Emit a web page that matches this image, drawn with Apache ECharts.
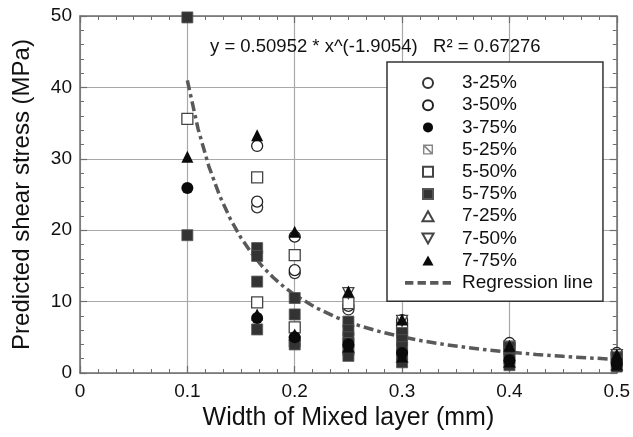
<!DOCTYPE html>
<html>
<head>
<meta charset="utf-8">
<script src="https://cdn.jsdelivr.net/npm/echarts@6/dist/echarts.min.js"></script>
<style>
  html, body { margin: 0; padding: 0; background: #fff; }
  #chart { width: 633px; height: 437px; }
</style>
</head>
<body>
<div id="chart"></div>
<script>
// Predicted shear stress vs. width of the mixed layer, [width (mm), stress (MPa)]
const s3_25 = [[0.165, 23.2], [0.2, 14.0], [0.25, 8.9], [0.3, 7.0], [0.4, 3.9], [0.5, 2.5]];
const s3_50 = [[0.165, 24.0], [0.165, 31.8], [0.2, 14.4], [0.2, 19.1], [0.25, 9.4], [0.3, 7.4], [0.4, 4.2], [0.5, 2.8]];
const s3_75 = [[0.1, 25.9], [0.165, 7.7], [0.2, 5.0], [0.25, 4.0], [0.3, 2.8], [0.4, 1.8], [0.5, 1.3]];
const s5_25 = [[0.25, 6.5], [0.3, 4.5], [0.4, 2.6], [0.5, 1.7]];
const s5_50 = [[0.1, 35.6], [0.165, 27.4], [0.165, 9.9], [0.2, 16.5], [0.2, 6.4], [0.25, 9.8], [0.3, 6.1], [0.4, 3.4], [0.5, 2.2]];
const s5_75 = [[0.1, 49.8], [0.1, 19.3], [0.165, 17.5], [0.165, 16.4], [0.165, 12.8], [0.165, 6.1],
               [0.2, 10.5], [0.2, 8.2], [0.2, 4.4], [0.2, 4.0],
               [0.25, 7.2], [0.25, 6.0], [0.25, 5.0], [0.25, 4.2], [0.25, 3.2], [0.25, 2.4],
               [0.3, 5.6], [0.3, 4.6], [0.3, 3.6], [0.3, 2.6], [0.3, 1.5],
               [0.4, 3.6], [0.4, 2.8], [0.4, 2.0], [0.4, 1.1],
               [0.5, 2.2], [0.5, 1.5], [0.5, 0.9]];
const s7_25 = [[0.25, 3.6], [0.3, 2.3], [0.4, 1.6], [0.5, 1.2]];
const s7_50 = [[0.25, 11.2], [0.3, 7.3], [0.4, 3.7], [0.5, 2.5]];
const s7_75 = [[0.1, 30.3], [0.165, 33.3], [0.165, 8.2], [0.2, 19.8], [0.2, 5.4], [0.25, 11.4], [0.25, 3.7],
               [0.3, 7.5], [0.3, 2.3], [0.4, 3.8], [0.4, 1.6], [0.5, 2.6], [0.5, 1.2]];

// Fitted power law y = A * x^B and its coefficient of determination
const fitA = 0.50952;
const fitB = -1.9054;
const fitR2 = 0.67276;
const fitX = [0.1, 0.11, 0.12, 0.13, 0.14, 0.15, 0.16, 0.17, 0.18, 0.19, 0.2, 0.22, 0.24, 0.26, 0.28, 0.3,
              0.32, 0.34, 0.36, 0.38, 0.4, 0.425, 0.45, 0.475, 0.5];
const fitLine = fitX.map(x => [x, fitA * Math.pow(x, fitB)]);

const xTicks = [0, 0.1, 0.2, 0.3, 0.4, 0.5];
const yTicks = [0, 10, 20, 30, 40, 50];

const FONT = 'Liberation Sans, Arial, sans-serif';
const frame = '#6e6e6e';

// marker outlines as paths so legend icons keep their proportions
const squarePath = 'path://M0,0L10,0L10,10L0,10Z';
const hatchedSquare = 'path://M0,0L10,0L10,10L0,10Z M1.4,1.4L1.4,8.6L8.6,8.6L8.6,1.4Z M1.4,1.4L2.6,1.4L8.6,7.4L8.6,8.6L7.4,8.6L1.4,2.6Z';
const triUp = 'path://M5,0L10,9L0,9Z';
const triDown = 'path://M0,0L10,0L5,9Z';
// four short dashes for the regression line's legend key
const dashKey = 'path://M0,0L8,0L8,3.5L0,3.5Z M12,0L20,0L20,3.5L12,3.5Z M24,0L32,0L32,3.5L24,3.5Z M36,0L44,0L44,3.5L36,3.5Z';

function openStyle(c) { return { color: '#fff', borderColor: c, borderWidth: 1.3, opacity: 1 }; }

const chart = echarts.init(document.getElementById('chart'), null, { renderer: 'canvas' });

const axisCommon = {
  type: 'value',
  axisLine: { show: true, onZero: false, lineStyle: { color: frame, width: 1.5 } },
  axisTick: { show: true, inside: true, length: 7, lineStyle: { color: frame, width: 1.2 } },
  minorTick: { show: true, length: 4, lineStyle: { color: frame, width: 1 } }
};

chart.setOption({
  animation: false,
  backgroundColor: '#fff',
  title: {
    text: 'y = ' + fitA + ' * x^(' + fitB + ')   R\u00b2 = ' + fitR2,
    left: 205, top: 32,
    textStyle: { fontFamily: FONT, fontSize: 18.5, fontWeight: 'normal', color: '#111' }
  },
  grid: { left: 80, right: 13, top: 16, bottom: 64, containLabel: false },
  legend: {
    orient: 'vertical',
    left: 387, top: 62,
    padding: [11.5, 10, 9, 18],
    itemWidth: 46, itemHeight: 10, itemGap: 3.2,
    backgroundColor: '#fff',
    borderColor: '#333', borderWidth: 1.5, borderRadius: 0,
    symbolKeepAspect: true,
    textStyle: { fontFamily: FONT, fontSize: 19, color: '#111', lineHeight: 18, padding: [0, 0, 0, 6] },
    data: [
      { name: '3-25%' }, { name: '3-50%' }, { name: '3-75%' },
      { name: '5-25%', icon: hatchedSquare }, { name: '5-50%', icon: squarePath }, { name: '5-75%', icon: squarePath },
      { name: '7-25%', icon: triUp }, { name: '7-50%', icon: triDown }, { name: '7-75%', icon: triUp },
      { name: 'Regression line', icon: dashKey }
    ],
    z: 10
  },
  xAxis: [
    Object.assign({}, axisCommon, {
      position: 'bottom', min: 0, max: 0.5, interval: 0.1,
      minorTick: Object.assign({}, axisCommon.minorTick, { splitNumber: 6 }),
      axisLabel: { margin: 9, fontFamily: FONT, fontSize: 19, color: '#111',
                   formatter: v => (xTicks.indexOf(+v.toFixed(1)) >= 0 ? String(+v.toFixed(1)) : '') },
      splitLine: { show: true, lineStyle: { color: '#a8a8a8', width: 1.2 } },
      name: 'Width of Mixed layer (mm)', nameLocation: 'middle', nameGap: 32,
      nameTextStyle: { fontFamily: FONT, fontSize: 25, color: '#111' }
    }),
    Object.assign({}, axisCommon, {
      position: 'top', min: 0, max: 0.5, interval: 0.1,
      minorTick: Object.assign({}, axisCommon.minorTick, { splitNumber: 6 }),
      axisLabel: { show: false }, splitLine: { show: false }
    })
  ],
  yAxis: [
    Object.assign({}, axisCommon, {
      position: 'left', min: 0, max: 50, interval: 10,
      minorTick: Object.assign({}, axisCommon.minorTick, { splitNumber: 5 }),
      axisLabel: { margin: 8, fontFamily: FONT, fontSize: 19, color: '#111',
                   formatter: v => (yTicks.indexOf(v) >= 0 ? String(v) : '') },
      splitLine: { show: true, lineStyle: { color: '#a8a8a8', width: 1.2 } },
      name: 'Predicted shear stress (MPa)', nameLocation: 'middle', nameGap: 46,
      nameTextStyle: { fontFamily: FONT, fontSize: 24, color: '#111' }
    }),
    Object.assign({}, axisCommon, {
      position: 'right', min: 0, max: 50, interval: 10,
      minorTick: Object.assign({}, axisCommon.minorTick, { splitNumber: 5 }),
      axisLabel: { show: false }, splitLine: { show: false }
    })
  ],
  series: [
    { name: 'Regression line', type: 'line', data: fitLine, showSymbol: false, symbol: 'none', smooth: false,
      lineStyle: { color: '#595959', width: 3.5, type: [10, 4, 3.5, 4] }, itemStyle: { color: '#595959' }, z: 2 },
    { name: '3-25%', type: 'scatter', data: s3_25, symbol: 'circle', symbolSize: 11, itemStyle: openStyle('#333'), z: 3 },
    { name: '3-50%', type: 'scatter', data: s3_50, symbol: 'circle', symbolSize: 11, itemStyle: openStyle('#222'), z: 3 },
    { name: '5-25%', type: 'scatter', data: s5_25, symbol: hatchedSquare, symbolSize: 11, itemStyle: { color: '#666' }, z: 3 },
    { name: '5-50%', type: 'scatter', data: s5_50, symbol: squarePath, symbolSize: 11, itemStyle: openStyle('#444'), z: 3 },
    { name: '7-25%', type: 'scatter', data: s7_25, symbol: triUp, symbolSize: 11, itemStyle: openStyle('#444'), z: 3 },
    { name: '7-50%', type: 'scatter', data: s7_50, symbol: triDown, symbolSize: 11, itemStyle: openStyle('#444'), z: 3 },
    { name: '5-75%', type: 'scatter', data: s5_75, symbol: squarePath, symbolSize: 11, itemStyle: { color: '#333', borderColor: '#555', borderWidth: 0.8, opacity: 1 }, z: 4 },
    { name: '3-75%', type: 'scatter', data: s3_75, symbol: 'circle', symbolSize: 12, itemStyle: { color: '#0a0a0a', opacity: 1 }, z: 5 },
    { name: '7-75%', type: 'scatter', data: s7_75, symbol: triUp, symbolSize: 12, itemStyle: { color: '#0a0a0a', opacity: 1 }, z: 6 }
  ]
});
</script>
</body>
</html>
